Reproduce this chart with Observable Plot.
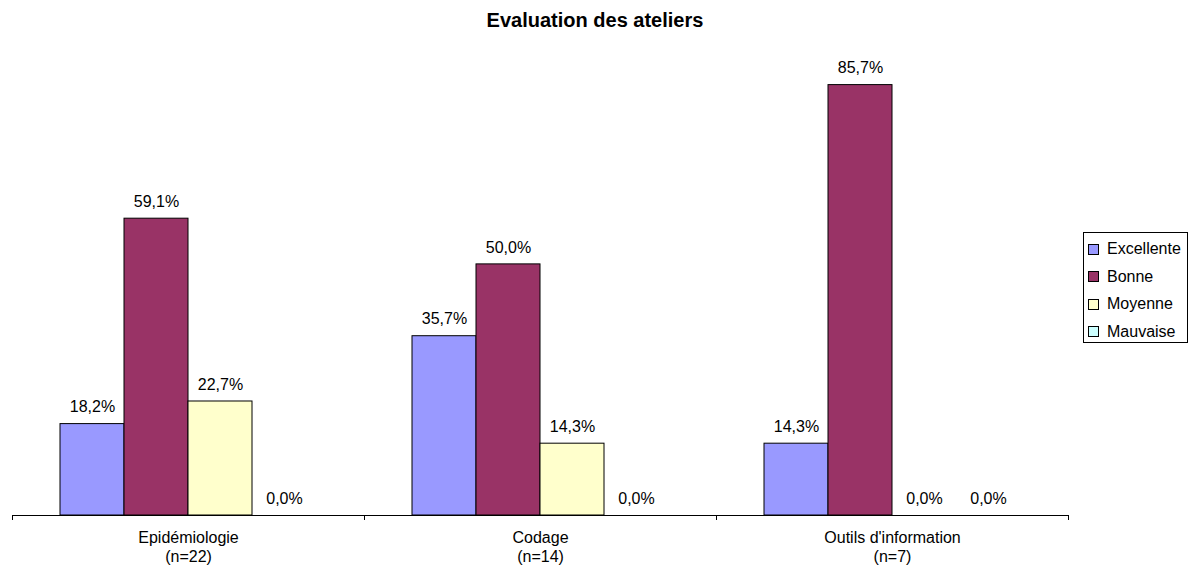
<!DOCTYPE html>
<html>
<head>
<meta charset="utf-8">
<script src="https://cdn.jsdelivr.net/npm/d3@7"></script>
<script src="https://cdn.jsdelivr.net/npm/@observablehq/plot@0.6"></script>
<style>
  html, body { margin: 0; padding: 0; background: #fff; }
  #wrap { position: relative; width: 1190px; height: 571px; font-family: "Liberation Sans", Arial, sans-serif; }
  #title { position: absolute; left: 0; top: 10px; width: 1190px; text-align: center; font-weight: bold; font-size: 20px; line-height: 20px; color: #000; }
  #chart { position: absolute; left: 0; top: 0; }
  #legend { position: absolute; left: 1083px; top: 232px; width: 103px; height: 109px; border: 1px solid #000; background: #fff; box-sizing: content-box; }
  .item { position: absolute; left: 4px; height: 18px; display: flex; align-items: center; font-size: 16px; color: #000; white-space: nowrap; }
  .sw { width: 9px; height: 9px; border: 1px solid #000; margin-right: 8px; }
</style>
</head>
<body>
<div id="wrap">
  <div id="chart"></div>
  <div id="title">Evaluation des ateliers</div>
  <div id="legend"></div>
</div>
<script>
const categories = ["Epidémiologie", "Codage", "Outils d'information"];
const counts = ["(n=22)", "(n=14)", "(n=7)"];
const series = ["Excellente", "Bonne", "Moyenne", "Mauvaise"];
const excellente = [18.2, 35.7, 14.3];
const bonne = [59.1, 50.0, 85.7];
const moyenne = [22.7, 14.3, 0.0];
const mauvaise = [0.0, 0.0, 0.0];
const colors = ["#9999FF", "#993366", "#FFFFCC", "#CCFFFF"];

const seriesValues = [excellente, bonne, moyenne, mauvaise];
const data = [];
categories.forEach((c, i) => {
  series.forEach((s, j) => data.push({category: c, series: s, value: seriesValues[j][i]}));
});
const labels = categories.map((c, i) => ({category: c, label: c + "\n" + counts[i]}));
const fmt = v => v.toFixed(1).replace(".", ",") + "%";

const chart = Plot.plot({
  width: 1190,
  height: 571,
  marginLeft: 11,
  marginRight: 121,
  marginTop: 63,
  marginBottom: 56,
  style: {fontFamily: "'Liberation Sans', Arial, sans-serif", fontSize: "16px", color: "#000", background: "transparent"},
  fx: {domain: categories, padding: 0, axis: null},
  x: {domain: series, axis: null, paddingInner: 0, paddingOuter: 0.74},
  y: {domain: [0, 90], axis: null},
  color: {domain: series, range: colors},
  marks: [
    Plot.barY(data, {fx: "category", x: "series", y: "value", fill: "series", stroke: "#000", strokeWidth: 1}),
    Plot.text(data, {fx: "category", x: "series", y: "value", text: d => fmt(d.value), dy: -17, fill: "#000", fontSize: 16}),
    Plot.ruleY([0], {stroke: "#000", strokeWidth: 1}),
    Plot.text(labels, {fx: "category", text: "label", frameAnchor: "bottom", lineAnchor: "top", dy: 14, lineHeight: 1.2, fill: "#000", fontSize: 16})
  ]
});
document.getElementById("chart").appendChild(chart);

// category boundary ticks from the fx scale
const fx = chart.scale("fx");
const ys = chart.scale("y");
const y0 = ys.apply(0);
const bounds = categories.map(c => fx.apply(c));
bounds.push(fx.apply(categories[categories.length - 1]) + fx.bandwidth);
d3.select(chart).append("g")
  .selectAll("line").data(bounds).join("line")
  .attr("x1", d => Math.round(d) + 0.5).attr("x2", d => Math.round(d) + 0.5)
  .attr("y1", y0).attr("y2", y0 + 5)
  .attr("stroke", "#000");

// legend
const color = chart.scale("color");
const legend = d3.select("#legend");
series.forEach((s, i) => {
  const it = legend.append("div").attr("class", "item").style("top", (7 + i * 27.5) + "px");
  it.append("div").attr("class", "sw").style("background", color.apply(s));
  it.append("span").text(s);
});
</script>
</body>
</html>
